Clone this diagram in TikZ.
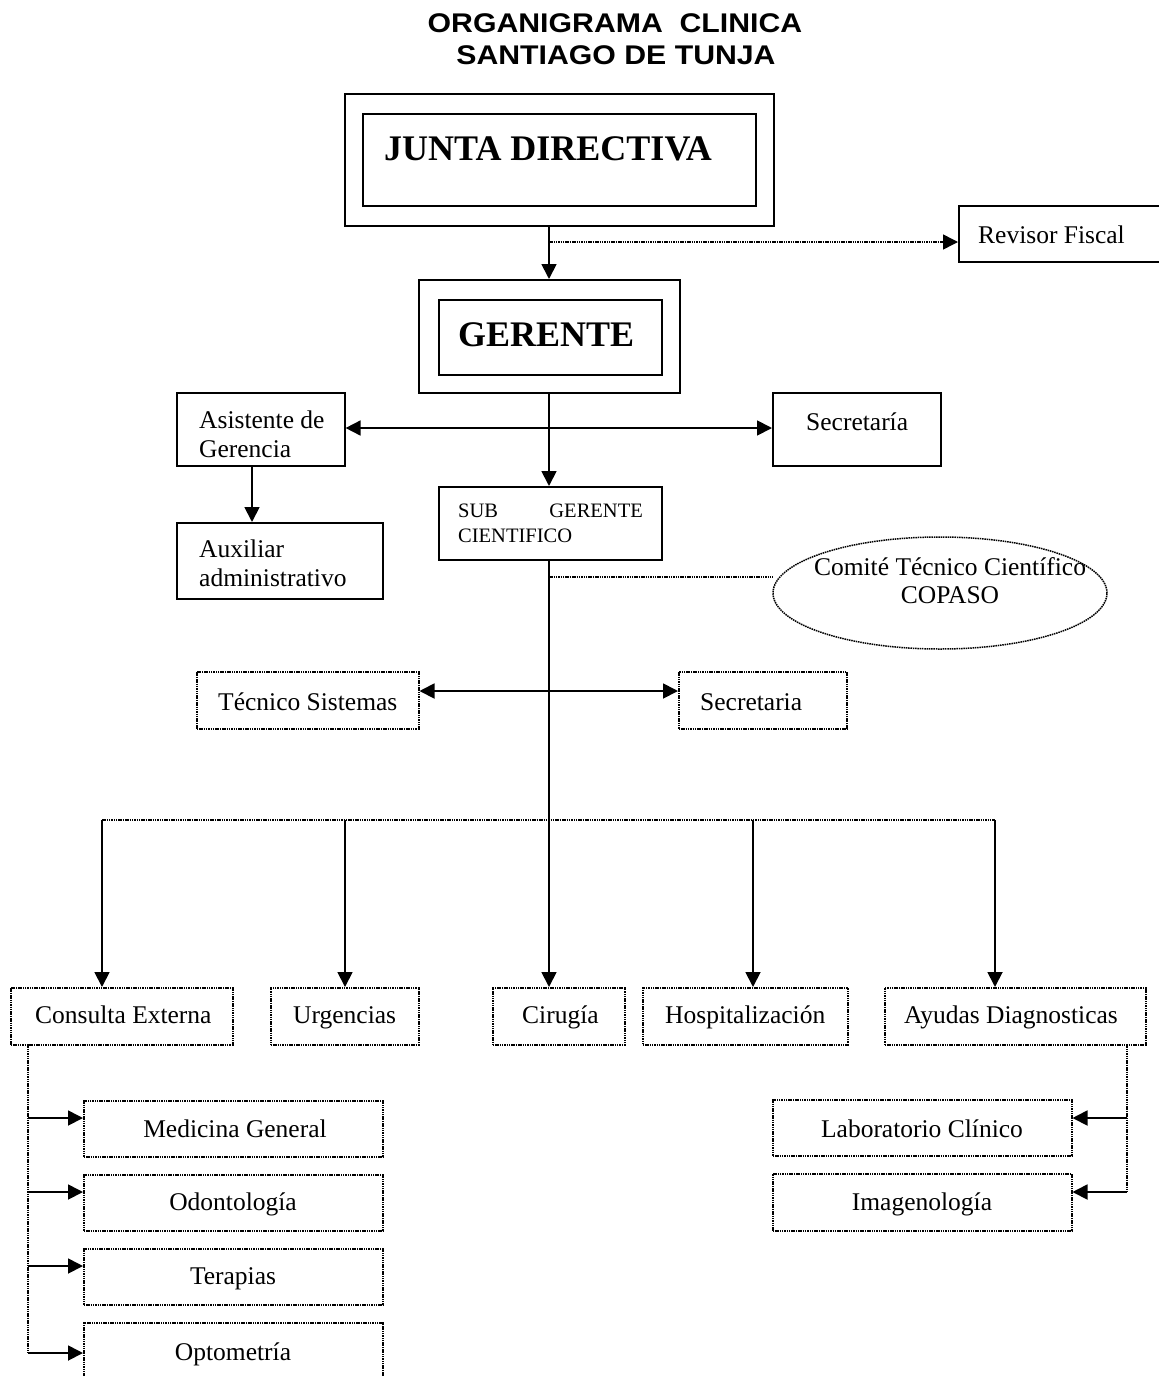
\documentclass[tikz,border=0pt]{standalone}
\usepackage{fontspec}
\usepackage{graphicx}
\setmainfont{Liberation Serif}
\newfontfamily\titlefont{Liberation Sans}
\usetikzlibrary{arrows.meta,shapes.geometric}
\newcommand{\mkbox}[6]{\node[#1, anchor=north west, minimum width={(#5-#3)*1pt}, minimum height={(#6-#4)*1pt}] (#2) at (#3,#4) {};}
\tikzset{
  solidbox/.style={draw, rectangle, line width=1.6pt, inner sep=0pt},
  dotbox/.style={draw, rectangle, line width=1.5pt, dash pattern=on 1.5pt off 0.8pt, inner sep=0pt},
  txt/.style={inner sep=0pt, font=\fontsize{25.5}{29}\selectfont},
  arr/.style={line width=1.8pt, -{Triangle[length=15pt,width=15pt]}},
  darr/.style={line width=1.8pt, {Triangle[length=15pt,width=15pt]}-{Triangle[length=15pt,width=15pt]}},
  plain/.style={line width=1.8pt},
  dotline/.style={line width=1.5pt, dash pattern=on 1.5pt off 0.8pt},
}
\begin{document}
\begin{tikzpicture}[x=1pt,y=-1pt]
\useasboundingbox (0,0) rectangle (1159,1376);
% title
\node[inner sep=0pt, anchor=base] (title1) at (615,32) {\titlefont\bfseries\fontsize{27}{30}\selectfont\scalebox{1.12}[1]{ORGANIGRAMA\ \ CLINICA}};
\node[inner sep=0pt, anchor=base] (title2) at (616,64) {\titlefont\bfseries\fontsize{27}{30}\selectfont\scalebox{1.12}[1]{SANTIAGO DE TUNJA}};
% Junta
\mkbox{solidbox}{juntao}{344}{93}{773}{225}
\mkbox{solidbox}{juntai}{362}{113}{755}{205}
\node[inner sep=0pt, anchor=base west] (tjunta) at (384,160) {\bfseries\fontsize{36}{40}\selectfont JUNTA DIRECTIVA};
% Gerente
\mkbox{solidbox}{gereno}{418}{279}{679}{392}
\mkbox{solidbox}{gereni}{438}{299}{661}{374}
\node[inner sep=0pt, anchor=base west] (tgeren) at (458,346) {\bfseries\fontsize{36}{40}\selectfont GERENTE};
% Revisor
\mkbox{solidbox}{revisor}{958}{205}{1165}{261}
\node[txt, anchor=base west] (trevisor) at (978,243) {Revisor Fiscal};
% Asistente
\mkbox{solidbox}{asist}{176}{392}{344}{465}
\node[txt, anchor=base west] (tasist1) at (199,428) {Asistente de};
\node[txt, anchor=base west] (tasist2) at (199,457) {Gerencia};
% Secretaria
\mkbox{solidbox}{secre}{772}{392}{940}{465}
\node[txt, anchor=base west] (tsecre) at (806,430) {Secretaría};
% Sub gerente
\mkbox{solidbox}{subg}{438}{486}{661}{559}
\node[inner sep=0pt, anchor=base west, font=\fontsize{20.5}{24}\selectfont] (tsub1) at (458,517) {SUB};
\node[inner sep=0pt, anchor=base east, font=\fontsize{20.5}{24}\selectfont] (tsub2) at (643,517) {GERENTE};
\node[inner sep=0pt, anchor=base west, font=\fontsize{20.5}{24}\selectfont] (tsub3) at (458,542) {CIENTIFICO};
% Auxiliar
\mkbox{solidbox}{auxil}{176}{522}{382}{598}
\node[txt, anchor=base west] (taux1) at (199,557) {Auxiliar};
\node[txt, anchor=base west] (taux2) at (199,586) {administrativo};
% Comite
\node[draw, ellipse, line width=1.5pt, dash pattern=on 1.5pt off 0.8pt, minimum width=334pt, minimum height=112pt, inner sep=0pt] (comite) at (940,593) {};
\node[txt, anchor=base] (tcom1) at (950,575) {Comité Técnico Científico};
\node[txt, anchor=base] (tcom2) at (950,603) {COPASO};
% Tecnico / Secretaria 2
\mkbox{dotbox}{tecnico}{196}{671}{418}{728}
\node[txt, anchor=base west] (ttec) at (218,710) {Técnico Sistemas};
\mkbox{dotbox}{secre2}{678}{671}{846}{728}
\node[txt, anchor=base west] (tsec2) at (700,710) {Secretaria};
% bottom row
\mkbox{dotbox}{consulta}{10}{987}{232}{1044}
\node[txt, anchor=base west] (tcons) at (35,1023) {Consulta Externa};
\mkbox{dotbox}{urgen}{270}{987}{418}{1044}
\node[txt, anchor=base west] (turg) at (293,1023) {Urgencias};
\mkbox{dotbox}{cirug}{492}{987}{624}{1044}
\node[txt, anchor=base west] (tcir) at (522,1023) {Cirugía};
\mkbox{dotbox}{hospi}{642}{987}{847}{1044}
\node[txt, anchor=base west] (thos) at (665,1023) {Hospitalización};
\mkbox{dotbox}{ayudas}{884}{987}{1145}{1044}
\node[txt, anchor=base west] (tayu) at (904,1023) {Ayudas Diagnosticas};
% consulta children
\mkbox{dotbox}{medic}{83}{1100}{382}{1156}
\node[txt, anchor=base] (tmed) at (235,1137) {Medicina General};
\mkbox{dotbox}{odont}{83}{1174}{382}{1230}
\node[txt, anchor=base] (todo) at (233,1210) {Odontología};
\mkbox{dotbox}{terap}{83}{1248}{382}{1304}
\node[txt, anchor=base] (tter) at (233,1284) {Terapias};
\mkbox{dotbox}{optom}{83}{1322}{382}{1382}
\node[txt, anchor=base] (topt) at (233,1360) {Optometría};
% ayudas children
\mkbox{dotbox}{labor}{772}{1099}{1071}{1155}
\node[txt, anchor=base] (tlab) at (922,1137) {Laboratorio Clínico};
\mkbox{dotbox}{image}{772}{1173}{1071}{1230}
\node[txt, anchor=base] (tima) at (922,1210) {Imagenología};
% coordinates
\coordinate (rf) at (549,242);
\coordinate (cm) at (549,577);
\coordinate (bus) at (549,820);
\coordinate (b1) at (102,820);
\coordinate (b2) at (345,820);
\coordinate (b4) at (753,820);
\coordinate (b5) at (995,820);
\coordinate (ts) at (549,691);
\coordinate (ga) at (549,428);
\coordinate (cx) at (28,1044);
\coordinate (cy) at (28,1353);
\coordinate (ax) at (1127,1044);
\coordinate (ay) at (1127,1192);
% connectors
\draw[arr] (juntao.south -| rf) -- (gereno.north -| rf);
\draw[dotline, -{Triangle[length=15pt,width=15pt]}] (rf) -- (revisor.west |- rf);
\draw[arr] (gereno.south -| rf) -- (subg.north -| rf);
\draw[darr] (asist.east |- ga) -- (secre.west |- ga);
\draw[arr] (asist.south -| 252,0) -- (auxil.north -| 252,0);
\draw[plain] (subg.south -| bus) -- (bus);
\draw[dotline] (cm) -- (comite.west |- cm);
\draw[darr] (tecnico.east |- ts) -- (secre2.west |- ts);
\draw[dotline] (b1) -- (b5);
\draw[arr] (b1) -- (consulta.north -| b1);
\draw[arr] (b2) -- (urgen.north -| b2);
\draw[arr] (bus) -- (cirug.north -| bus);
\draw[arr] (b4) -- (hospi.north -| b4);
\draw[arr] (b5) -- (ayudas.north -| b5);
\draw[dotline] (cx) -- (cy);
\draw[arr] (cx |- 0,1118) -- (medic.west |- 0,1118);
\draw[arr] (cx |- 0,1192) -- (odont.west |- 0,1192);
\draw[arr] (cx |- 0,1266) -- (terap.west |- 0,1266);
\draw[arr] (cy) -- (optom.west |- cy);
\draw[dotline] (ax) -- (ay);
\draw[arr] (ax |- 0,1118) -- (labor.east |- 0,1118);
\draw[arr] (ay) -- (image.east |- ay);
\end{tikzpicture}
\end{document}
